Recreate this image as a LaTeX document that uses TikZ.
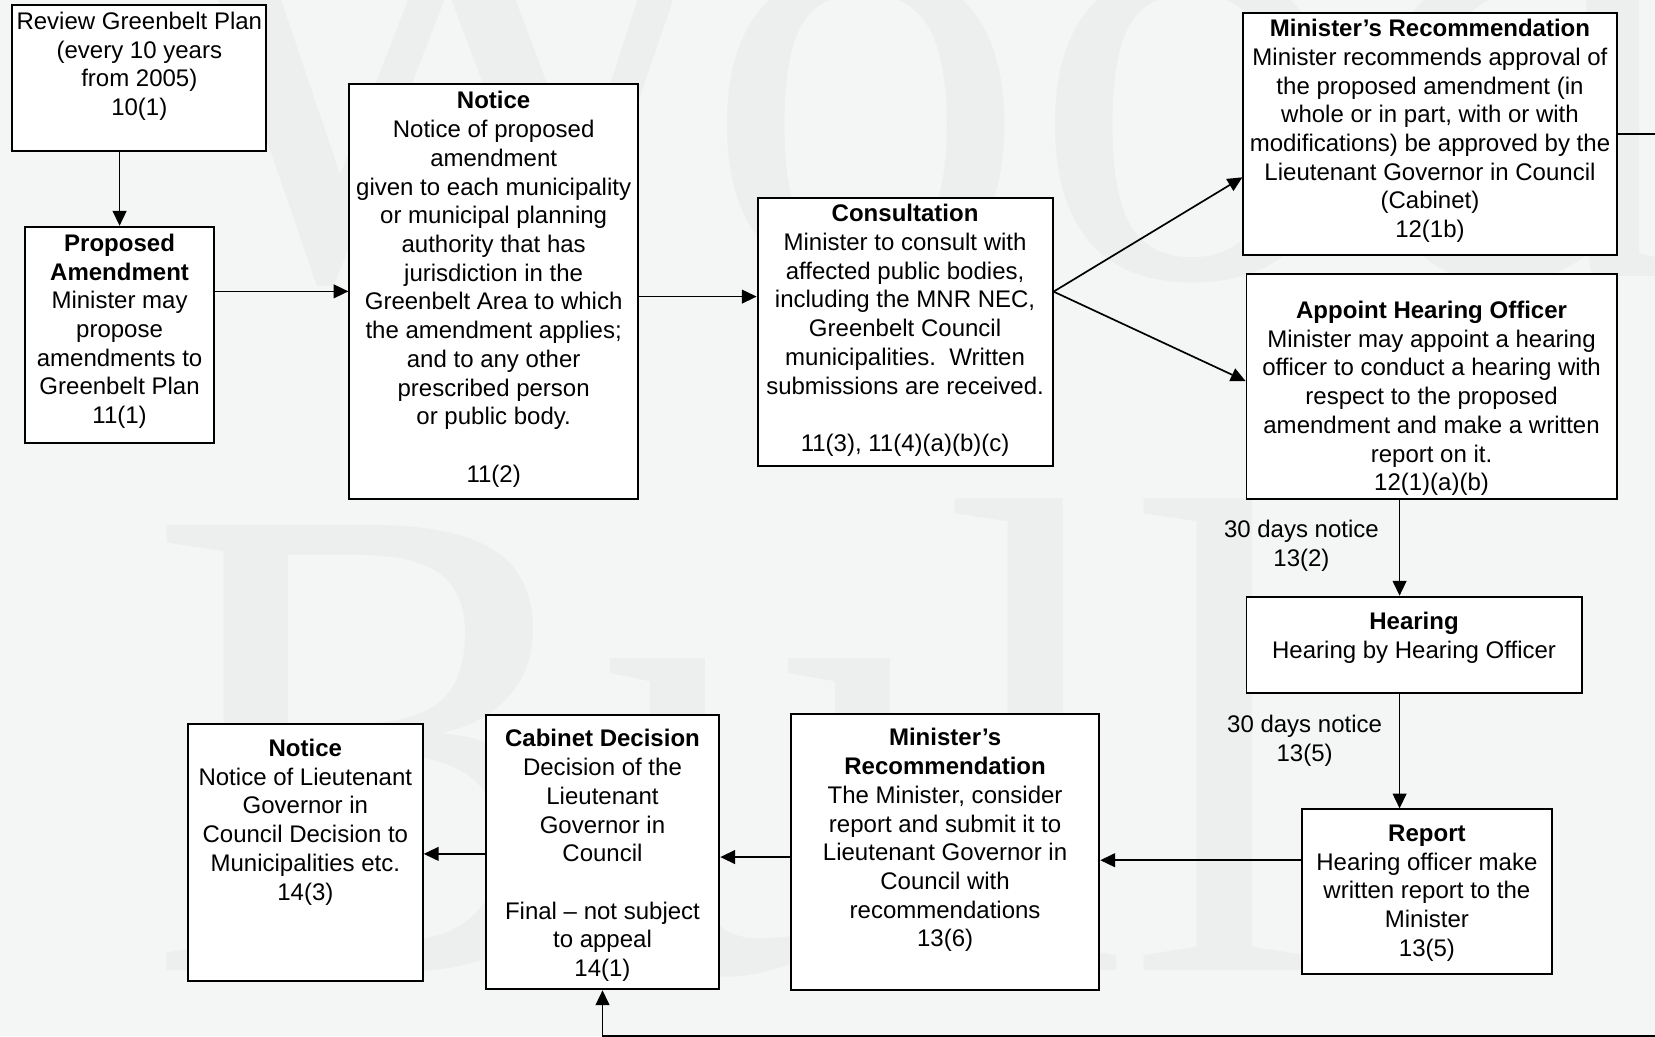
\documentclass[tikz,border=0pt]{standalone}
\usepackage{fontspec}
\setmainfont{Liberation Sans}
\newfontfamily\wmfont{Liberation Serif}
\usetikzlibrary{arrows.meta}

\definecolor{pagebg}{HTML}{F4F6F6}
\definecolor{wmark}{HTML}{EDEFEF}

\tikzset{
  stepbox/.style={draw=black, line width=1.8pt, fill=white, inner sep=0pt},
  % anchored on the first baseline: the node top is one strut height above it
  boxtext/.style={anchor=north, yshift=19.04pt, align=center, inner sep=0pt,
    font=\fontsize{22.75pt}{27.2pt}\selectfont},
  arr/.style={line width=1.6pt, -{Triangle[length=14pt,width=13pt]}},
  wmtext/.style={anchor=base west, inner sep=0pt, text=wmark},
}

% \flowbox{name}{x1}{y1}{x2}{y2}: empty framed box between two corners
\newcommand\flowbox[5]{%
  \node[stepbox, minimum width={(#4-#2)*1pt}, minimum height={(#5-#3)*1pt}]
    (#1) at ({(#2+#4)/2},{(#3+#5)/2}) {};}

\begin{document}
\begin{tikzpicture}[x=1pt,y=-1pt]
\fill[pagebg] (0,0) rectangle (1568,982);
\useasboundingbox (0,0) rectangle (1568,982);

% faint logo lettering in the background
\node[wmtext, font=\wmfont\fontsize{620pt}{620pt}\selectfont] (wmtop) at (130,262) {Wood};
\node[wmtext, font=\wmfont\fontsize{644pt}{644pt}\selectfont] (wmbot) at (140,919) {Bull};

% boxes
\flowbox{review}{11.2}{4.4}{252}{142.8}
\flowbox{prop}{24}{214.8}{202.6}{419.4}
\flowbox{notice}{331}{79.6}{604.5}{472.5}
\flowbox{cons}{717.8}{187.3}{997.3}{441.3}
\flowbox{mrA}{1178}{12}{1531.7}{241.6}
\flowbox{appoint}{1181}{259.9}{1531.7}{473}
\flowbox{hearing}{1181}{565.3}{1498.5}{656.2}
\flowbox{report}{1233.8}{766.8}{1470}{922.8}
\flowbox{mrB}{749.4}{676.8}{1041.5}{938}
\flowbox{cabinet}{460.2}{677.4}{681.5}{937.3}
\flowbox{lgnotice}{178}{686}{400.6}{929.1}

% box texts
\node[boxtext] (review-t) at (132,27.8) {\strut Review Greenbelt Plan\\(every 10 years\\from 2005)\\10(1)};
\node[boxtext] (prop-t) at (113.3,238) {\strut\textbf{Proposed}\\\textbf{Amendment}\\Minister may\\propose\\amendments to\\Greenbelt Plan\\11(1)};
\node[boxtext] (notice-t) at (467.7,103) {\strut\textbf{Notice}\\Notice of proposed\\amendment\\given to each municipality\\or municipal planning\\authority that has\\jurisdiction in the\\Greenbelt Area to which\\the amendment applies;\\and to any other\\prescribed person\\or public body.\\[27.2pt]11(2)};
\node[boxtext] (cons-t) at (857.5,210) {\strut\textbf{Consultation}\\Minister to consult with\\affected public bodies,\\including the MNR NEC,\\Greenbelt Council\\municipalities.\ \ Written\\submissions are received.\\[27.2pt]11(3), 11(4)(a)(b)(c)};
\node[boxtext] (mrA-t) at (1354.8,34.5) {\strut\textbf{Minister’s Recommendation}\\Minister recommends approval of\\the proposed amendment (in\\whole or in part, with or with\\modifications) be approved by the\\Lieutenant Governor in Council\\(Cabinet)\\12(1b)};
\node[boxtext] (appoint-t) at (1356.3,301.6) {\strut\textbf{Appoint Hearing Officer}\\Minister may appoint a hearing\\officer to conduct a hearing with\\respect to the proposed\\amendment and make a written\\report on it.\\12(1)(a)(b)};
\node[boxtext] (hearing-t) at (1339.7,596.5) {\strut\textbf{Hearing}\\Hearing by Hearing Officer};
\node[boxtext] (report-t) at (1351.9,797) {\strut\textbf{Report}\\Hearing officer make\\written report to the\\Minister\\13(5)};
\node[boxtext] (mrB-t) at (895.4,706.5) {\strut\textbf{Minister’s}\\\textbf{Recommendation}\\The Minister, consider\\report and submit it to\\Lieutenant Governor in\\Council with\\recommendations\\13(6)};
\node[boxtext] (cabinet-t) at (570.8,707.5) {\strut\textbf{Cabinet Decision}\\Decision of the\\Lieutenant\\Governor in\\Council\\[27.2pt]Final – not subject\\to appeal\\14(1)};
\node[boxtext] (lgnotice-t) at (289.3,716.5) {\strut\textbf{Notice}\\Notice of Lieutenant\\Governor in\\Council Decision to\\Municipalities etc.\\14(3)};

% connector labels
\node[boxtext] (lab1) at (1233,509.4) {\strut 30 days notice\\13(2)};
\node[boxtext] (lab2) at (1236,694) {\strut 30 days notice\\13(5)};

% connectors
\draw[arr] (review.south -| prop.north) -- (prop.north);
\draw[arr] (prop.east |- notice.west) -- (notice.west);
\draw[arr] (notice.east |- 0,281) -- (cons.west |- 0,281);
\coordinate (fork) at (cons.east |- 0,276.3);
\draw[arr] (fork) -- (mrA.west |- 0,168);
\draw[arr] (fork) -- (appoint.west |- 0,361);
\draw[arr] (appoint.south -| 1326,0) -- (hearing.north -| 1326,0);
\draw[arr] (hearing.south -| 1326,0) -- (report.north -| 1326,0);
\draw[arr] (report.west |- 0,815) -- (mrB.east |- 0,815);
\draw[arr] (mrB.west |- 0,812) -- (cabinet.east |- 0,812);
\draw[arr] (cabinet.west |- 0,809) -- (lgnotice.east |- 0,809);
\draw[arr] (mrA.east) -- ++(90,0) |- (cabinet.south |- 0,981.6) -- (cabinet.south);
\end{tikzpicture}
\end{document}
